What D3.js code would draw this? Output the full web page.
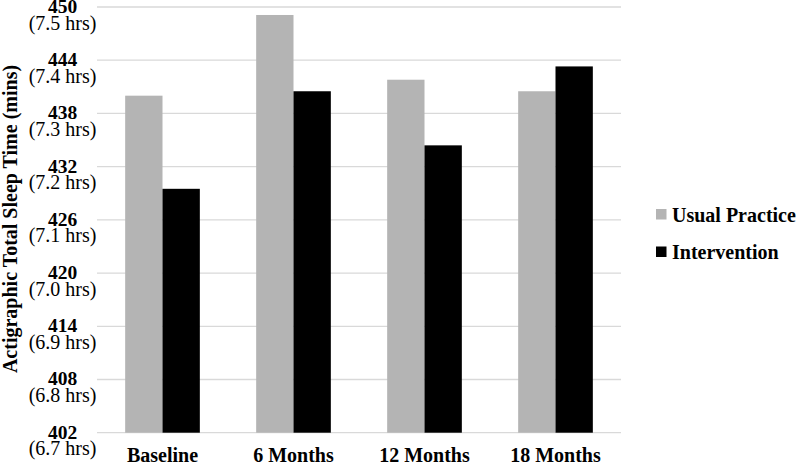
<!DOCTYPE html>
<html>
<head>
<meta charset="utf-8">
<script src="https://cdn.jsdelivr.net/npm/d3@7/dist/d3.min.js"></script>
<style>
  html, body { margin: 0; padding: 0; background: #fff; }
  svg { display: block; }
</style>
</head>
<body>
<svg id="chart" width="800" height="465"></svg>
<script>
const categories = ["Baseline", "6 Months", "12 Months", "18 Months"];
const seriesNames = ["Usual Practice", "Intervention"];
const usualPractice = [440.0, 449.1, 441.8, 440.5];
const intervention = [429.5, 440.5, 434.4, 443.3];
const tickValues = [402, 408, 414, 420, 426, 432, 438, 444, 450];
const tickHours = ["(6.7 hrs)", "(6.8 hrs)", "(6.9 hrs)", "(7.0 hrs)", "(7.1 hrs)", "(7.2 hrs)", "(7.3 hrs)", "(7.4 hrs)", "(7.5 hrs)"];
const colors = ["#b4b4b4", "#000000"];
const yTitle = "Actigraphic Total Sleep Time (mins)";

const svg = d3.select("#chart");
const font = "'Liberation Serif', 'Times New Roman', serif";
const plotLeft = 97, plotRight = 621, plotTop = 7, plotBottom = 432.7;

const x = d3.scaleBand().domain(categories).range([plotLeft, plotRight]).paddingInner(0.43).paddingOuter(0.215);
const x1 = d3.scaleBand().domain(seriesNames).range([0, x.bandwidth()]).padding(0);
const y = d3.scaleLinear().domain([402, 450]).range([plotBottom, plotTop]);

// gridlines
svg.append("g").selectAll("line").data(tickValues).join("line")
  .attr("x1", plotLeft).attr("x2", plotRight)
  .attr("y1", d => y(d)).attr("y2", d => y(d))
  .attr("stroke", "#d9d9d9").attr("stroke-width", 1.3);

// y tick labels
const yl = svg.append("g").selectAll("g").data(tickValues).join("g")
  .attr("transform", d => `translate(62.5,${y(d)})`);
yl.append("text").attr("y", 6).attr("text-anchor", "middle")
  .attr("font-family", font).attr("font-size", 19.5).attr("font-weight", "bold")
  .text(d => d);
yl.append("text").attr("y", 22.5).attr("text-anchor", "middle")
  .attr("font-family", font).attr("font-size", 20)
  .text((d, i) => tickHours[i]);

// bars
const data = categories.map((c, i) => ({ c, vals: [usualPractice[i], intervention[i]] }));
const groups = svg.append("g").selectAll("g").data(data).join("g")
  .attr("transform", d => `translate(${x(d.c)},0)`);
groups.selectAll("rect").data(d => d.vals.map((v, j) => ({ v, s: seriesNames[j], j })))
  .join("rect")
  .attr("x", d => x1(d.s))
  .attr("width", x1.bandwidth())
  .attr("y", d => y(d.v))
  .attr("height", d => y(402) - y(d.v))
  .attr("fill", d => colors[d.j]);

// x labels
svg.append("g").selectAll("text").data(categories).join("text")
  .attr("x", d => x(d) + x.bandwidth() / 2)
  .attr("y", 462)
  .attr("text-anchor", "middle")
  .attr("font-family", font).attr("font-size", 20).attr("font-weight", "bold")
  .text(d => d);

// y title
svg.append("text")
  .attr("transform", "translate(17,219) rotate(-90)")
  .attr("text-anchor", "middle")
  .attr("font-family", font).attr("font-size", 20).attr("font-weight", "bold")
  .text(yTitle);

// legend
const lg = svg.append("g").selectAll("g").data(seriesNames).join("g")
  .attr("transform", (d, i) => `translate(656,${209 + i * 37.5})`);
lg.append("rect").attr("width", 10.5).attr("height", 10.5).attr("fill", (d, i) => colors[i]);
lg.append("text").attr("x", 16).attr("y", 12.5)
  .attr("font-family", font).attr("font-size", 20).attr("font-weight", "bold")
  .text(d => d);
</script>
</body>
</html>
